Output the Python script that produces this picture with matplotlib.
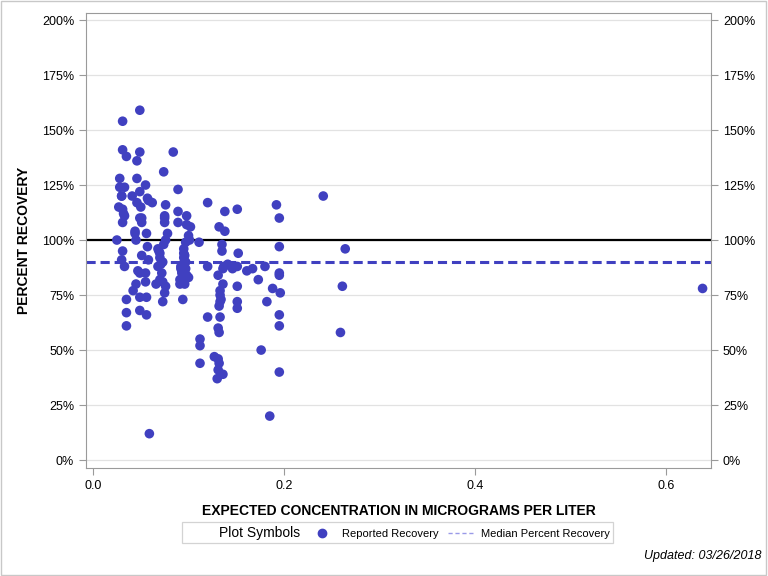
import matplotlib
matplotlib.use("Agg")
from matplotlib import pyplot as plt
from matplotlib.lines import Line2D
from matplotlib.ticker import FuncFormatter, FixedLocator

plt.rcParams['font.family'] = ['Liberation Sans', 'DejaVu Sans']

# expected concentration (ug/L) and percent recovery
conc = [
    0.031, 0.031, 0.035, 0.028, 0.028, 0.033, 0.030, 0.027, 0.031, 0.033,
    0.031, 0.025, 0.031, 0.030, 0.033, 0.035, 0.035, 0.035, 0.030, 0.032,
    0.049, 0.049, 0.046, 0.046, 0.049, 0.055, 0.041, 0.057, 0.062, 0.046,
    0.050, 0.049, 0.051, 0.051, 0.044, 0.056, 0.044, 0.045, 0.057, 0.051,
    0.058, 0.049, 0.055, 0.045, 0.047, 0.042, 0.049, 0.056, 0.049, 0.056,
    0.058, 0.055,
    0.084, 0.074, 0.076, 0.075, 0.075, 0.075, 0.078, 0.076, 0.070, 0.073,
    0.068, 0.073, 0.070, 0.075, 0.073, 0.069, 0.074, 0.070, 0.072, 0.076,
    0.066, 0.068, 0.071,
    0.089, 0.089, 0.098, 0.089, 0.098, 0.102, 0.100, 0.097, 0.095, 0.095,
    0.095, 0.097, 0.093, 0.100, 0.091, 0.096, 0.094, 0.092, 0.101, 0.097,
    0.093, 0.091, 0.096, 0.098, 0.094, 0.092,
    0.120, 0.138, 0.151, 0.132, 0.138, 0.111, 0.135, 0.135, 0.152, 0.120,
    0.136, 0.151, 0.131, 0.136, 0.151, 0.133, 0.133, 0.133, 0.132, 0.151,
    0.151, 0.120, 0.133, 0.131, 0.132, 0.112, 0.112, 0.127, 0.131, 0.132,
    0.112, 0.131, 0.136, 0.130, 0.134, 0.137, 0.141, 0.146,
    0.192, 0.195, 0.195, 0.195, 0.195, 0.196, 0.195, 0.195, 0.195, 0.188,
    0.182, 0.180, 0.176, 0.185, 0.173, 0.167, 0.161,
    0.241, 0.264, 0.261, 0.259, 0.059, 0.638,
]
recovery = [
    154, 141, 138, 128, 124, 124, 120, 115, 114, 111,
    108, 100, 95, 91, 88, 73, 67, 61, 120, 112,
    159, 140, 136, 128, 122, 125, 120, 119, 117, 117,
    115, 110, 110, 108, 103, 103, 104, 100, 97, 93,
    91, 85, 85, 80, 86, 77, 74, 74, 68, 66,
    118, 81,
    140, 131, 116, 111, 110, 108, 103, 100, 94, 90,
    88, 81, 82, 76, 72, 95, 98, 92, 85, 79,
    80, 96, 89,
    123, 113, 111, 108, 107, 106, 102, 99, 96, 94,
    92, 90, 85, 83, 80, 80, 73, 88, 100, 87,
    86, 82, 93, 84, 89, 87,
    117, 113, 114, 106, 104, 99, 98, 95, 94, 88,
    87, 88, 84, 80, 79, 77, 75, 72, 70, 72,
    69, 65, 65, 60, 58, 55, 52, 47, 46, 44,
    44, 41, 39, 37, 73, 88, 89, 87,
    116, 110, 97, 85, 84, 76, 66, 61, 40, 78,
    72, 88, 50, 20, 82, 87, 86,
    120, 96, 79, 58, 12, 78,
]

median_recovery = 90
y_ticks = [0, 25, 50, 75, 100, 125, 150, 175, 200]
x_ticks = [0.0, 0.2, 0.4, 0.6]

dot_color = '#4040C0'
frame_color = '#9a9a9a'

fig = plt.figure(figsize=(7.68, 5.76), dpi=100)
ax = fig.add_axes([0.112, 0.1875, 0.814, 0.790])

ax.scatter(conc, recovery, s=48, color=dot_color, edgecolors='none', zorder=3)
ax.axhline(100, color='black', lw=1.6, zorder=2)
ax.axhline(median_recovery, color=dot_color, lw=2.2, ls=(0, (3, 1.6)), zorder=2)

ax.set_xlim(-0.0073, 0.647)
ax.set_ylim(-3.6, 203.2)
ax.yaxis.set_major_locator(FixedLocator(y_ticks))
ax.xaxis.set_major_locator(FixedLocator(x_ticks))
ax.yaxis.set_major_formatter(FuncFormatter(lambda v, p: f"{v:.0f}%"))
ax.xaxis.set_major_formatter(FuncFormatter(lambda v, p: f"{v:.1f}"))

ax.grid(axis='y', color='#e2e2e2', lw=0.9, zorder=0)
ax.set_axisbelow(True)
for side in ['left', 'right', 'top', 'bottom']:
    ax.spines[side].set_color(frame_color)
ax.tick_params(axis='both', colors=frame_color, labelcolor='black', labelsize=9, length=5, direction='out')
ax.tick_params(axis='y', right=True, labelright=True)

ax.set_xlabel("EXPECTED CONCENTRATION IN MICROGRAMS PER LITER", fontsize=10, fontweight='bold', labelpad=9)
ax.set_ylabel("PERCENT RECOVERY", fontsize=10, fontweight='bold', labelpad=8)

handles = [
    Line2D([], [], lw=0, marker=None),
    Line2D([], [], lw=0, marker='o', markersize=6, color=dot_color),
    Line2D([], [], lw=1, ls=(0, (3, 2)), color='#9a9ae8'),
]
labels = ["Plot Symbols", "Reported Recovery", "Median Percent Recovery"]
leg = fig.legend(handles, labels, loc='center', bbox_to_anchor=(0.518, 0.0755), ncol=3,
                 fontsize=8, frameon=True, fancybox=False, edgecolor='#c8c8c8',
                 handlelength=2.4, columnspacing=0.8, handletextpad=0.6, borderpad=0.3,
                 borderaxespad=0)
leg.get_frame().set_linewidth(0.9)
leg.get_texts()[0].set_fontsize(10)

fig.text(0.992, 0.035, "Updated: 03/26/2018", ha='right', va='center', fontsize=9, style='italic')

border = plt.Rectangle((0.001, 0.001), 0.997, 0.997, transform=fig.transFigure,
                       fill=False, edgecolor='#c8c8c8', lw=1)
fig.patches.append(border)

fig.savefig("out.png", dpi=100)
